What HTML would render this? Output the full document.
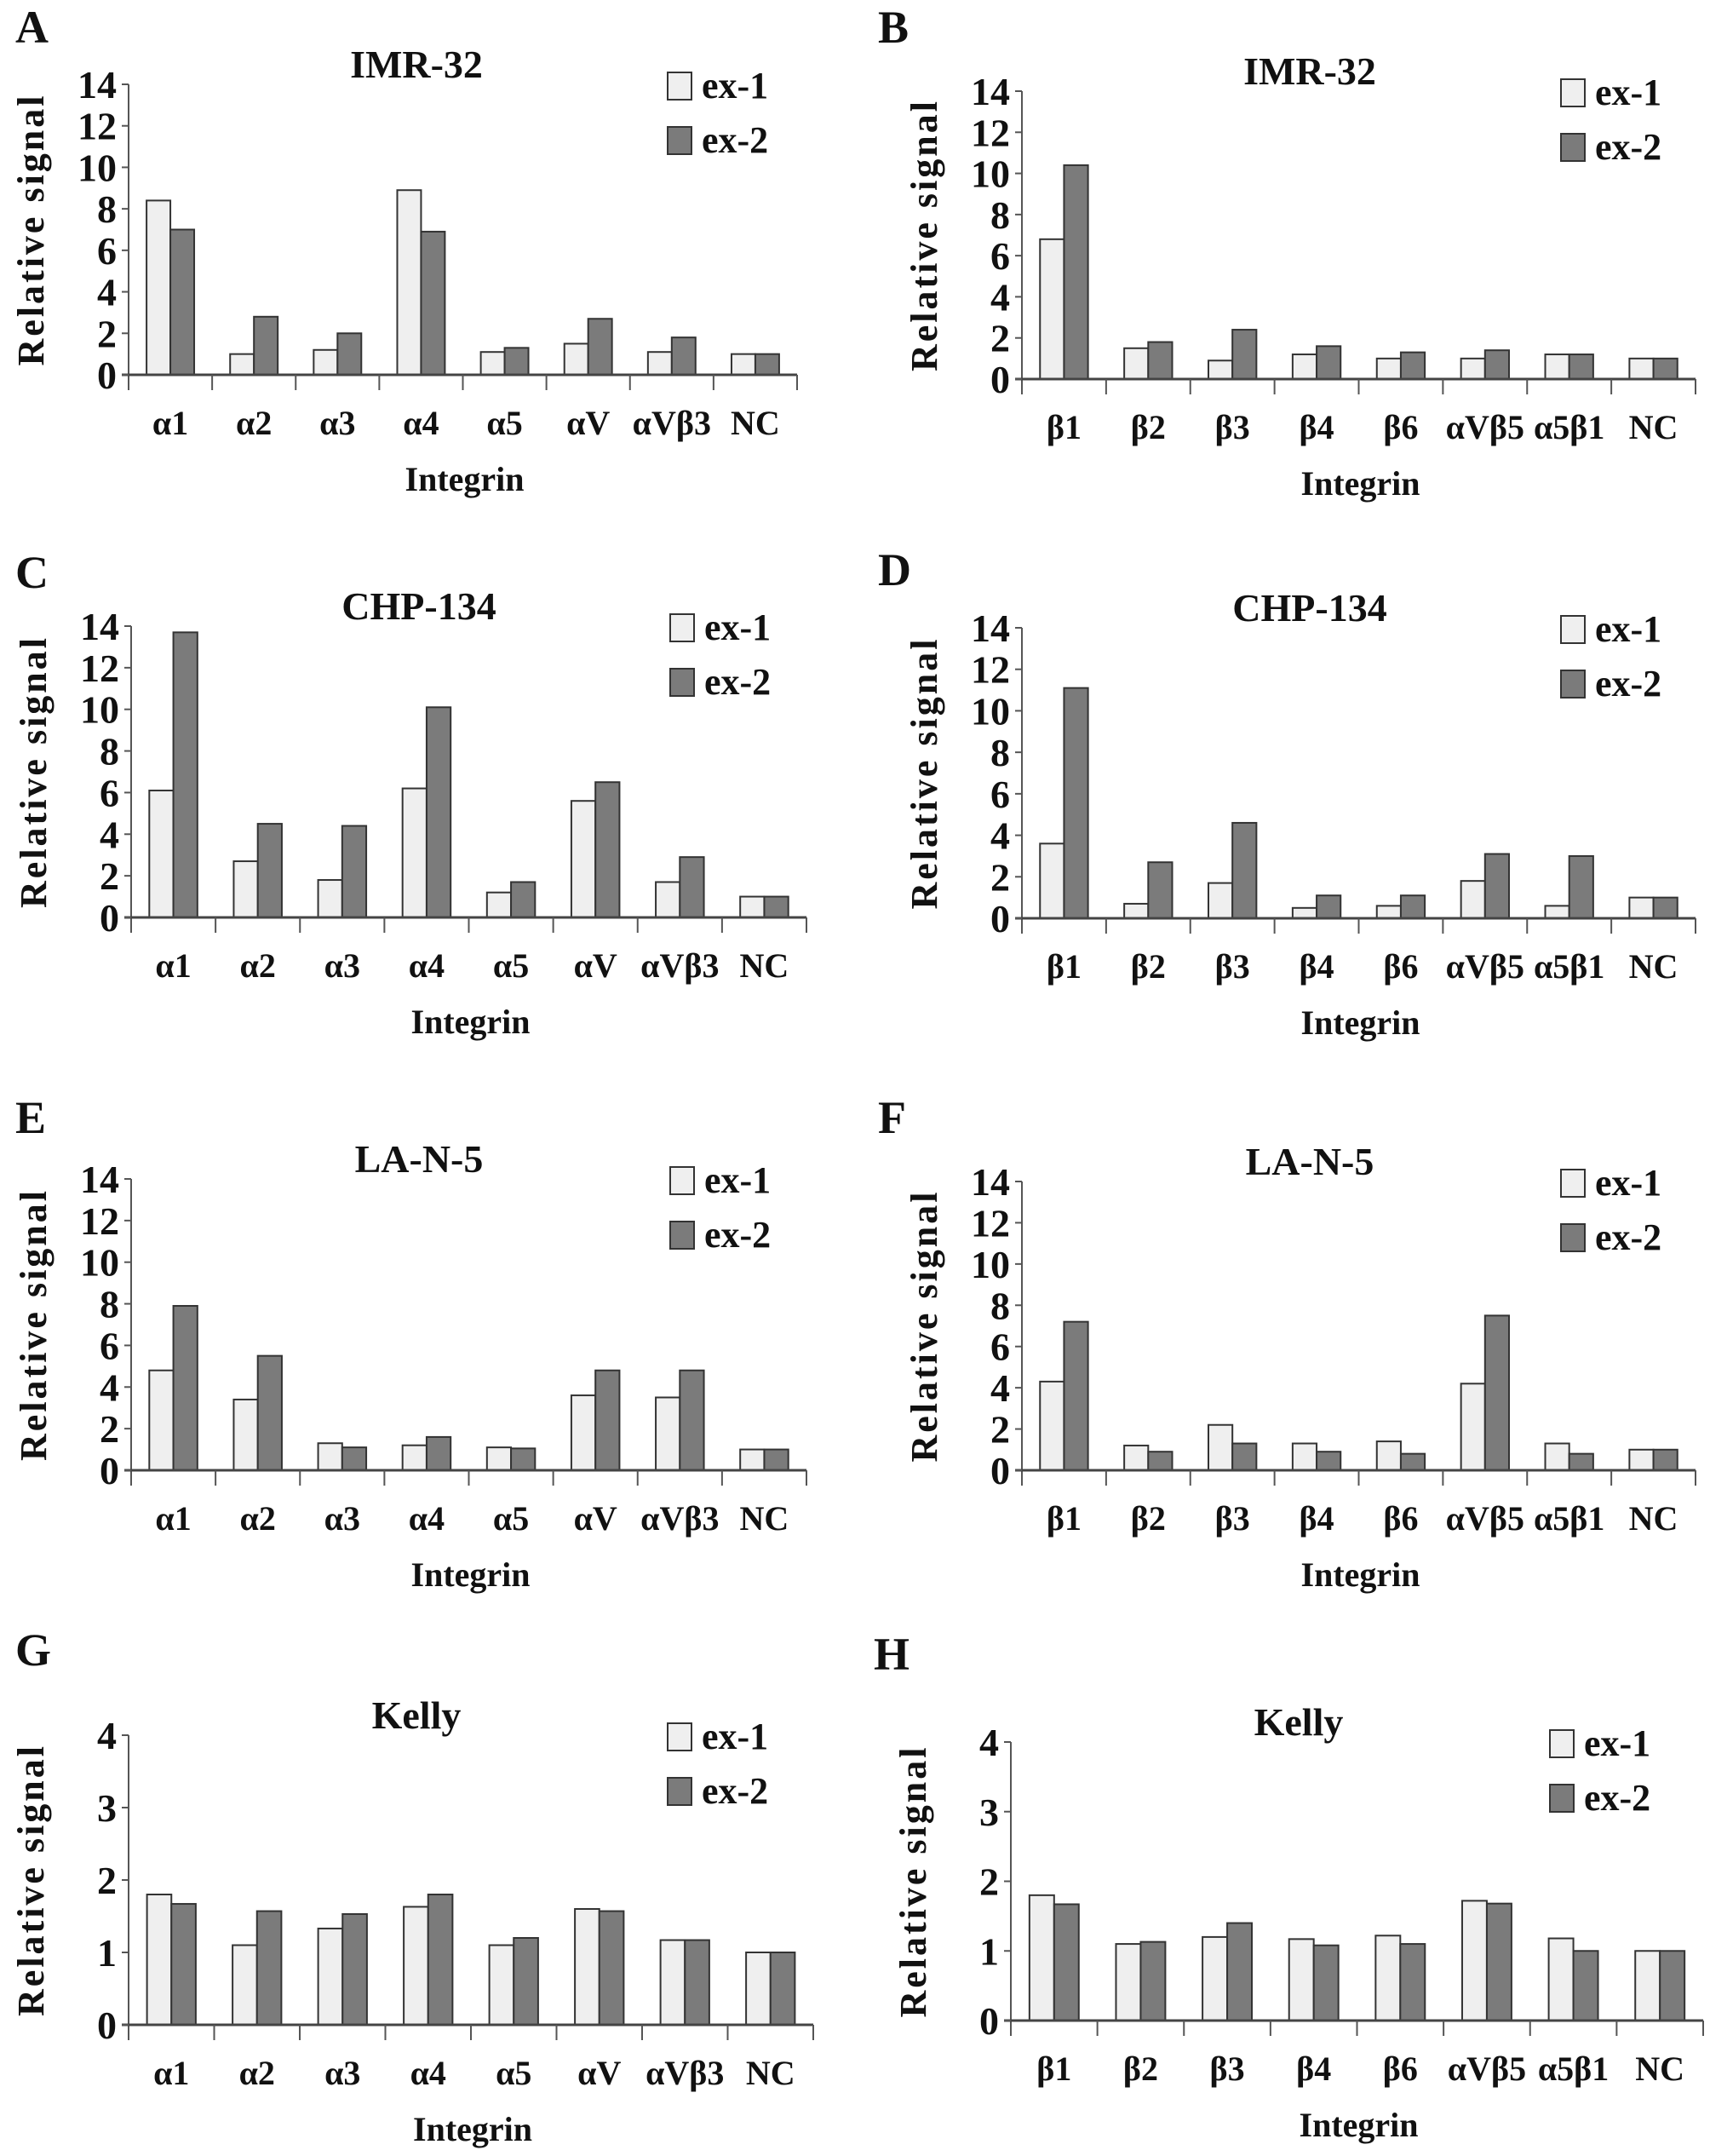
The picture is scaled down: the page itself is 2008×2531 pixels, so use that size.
<!DOCTYPE html>
<html><head><meta charset="utf-8">
<style>
html,body{margin:0;padding:0;background:#fff;}
svg{display:block;}
text{font-family:"Liberation Serif",serif;font-weight:bold;fill:#111;}
</style></head>
<body>
<svg id="fig" width="2008" height="2531" viewBox="0 0 2008 2531" xmlns="http://www.w3.org/2000/svg"></svg>
<script>
const alphaCats = ["α1","α2","α3","α4","α5","αV","αVβ3","NC"];
const betaCats = ["β1","β2","β3","β4","β6","αVβ5","α5β1","NC"];
const ticks14 = [0,2,4,6,8,10,12,14];
const ticks4 = [0,1,2,3,4];
const aEx1 = [8.4,1.0,1.2,8.9,1.1,1.5,1.1,1.0];
const aEx2 = [7.0,2.8,2.0,6.9,1.3,2.7,1.8,1.0];
const bEx1 = [6.8,1.5,0.9,1.2,1.0,1.0,1.2,1.0];
const bEx2 = [10.4,1.8,2.4,1.6,1.3,1.4,1.2,1.0];
const cEx1 = [6.1,2.7,1.8,6.2,1.2,5.6,1.7,1.0];
const cEx2 = [13.7,4.5,4.4,10.1,1.7,6.5,2.9,1.0];
const dEx1 = [3.6,0.7,1.7,0.5,0.6,1.8,0.6,1.0];
const dEx2 = [11.1,2.7,4.6,1.1,1.1,3.1,3.0,1.0];
const eEx1 = [4.8,3.4,1.3,1.2,1.1,3.6,3.5,1.0];
const eEx2 = [7.9,5.5,1.1,1.6,1.05,4.8,4.8,1.0];
const fEx1 = [4.3,1.2,2.2,1.3,1.4,4.2,1.3,1.0];
const fEx2 = [7.2,0.9,1.3,0.9,0.8,7.5,0.8,1.0];
const gEx1 = [1.8,1.1,1.33,1.63,1.1,1.6,1.17,1.0];
const gEx2 = [1.67,1.57,1.53,1.8,1.2,1.57,1.17,1.0];
const hEx1 = [1.8,1.1,1.2,1.17,1.22,1.72,1.18,1.0];
const hEx2 = [1.67,1.13,1.4,1.08,1.1,1.68,1.0,1.0];

const panels = [
 {id:"A",title:"IMR-32",cats:alphaCats,e1:aEx1,e2:aEx2,ticks:ticks14,L:151,R:936,T:99,Z:440,lx:18,ly:50},
 {id:"B",title:"IMR-32",cats:betaCats,e1:bEx1,e2:bEx2,ticks:ticks14,L:1200,R:1991,T:107,Z:445,lx:1031,ly:50},
 {id:"C",title:"CHP-134",cats:alphaCats,e1:cEx1,e2:cEx2,ticks:ticks14,L:154,R:947,T:735,Z:1077,lx:18,ly:690},
 {id:"D",title:"CHP-134",cats:betaCats,e1:dEx1,e2:dEx2,ticks:ticks14,L:1200,R:1991,T:737,Z:1078,lx:1031,ly:687},
 {id:"E",title:"LA-N-5",cats:alphaCats,e1:eEx1,e2:eEx2,ticks:ticks14,L:154,R:947,T:1384,Z:1726,lx:18,ly:1330},
 {id:"F",title:"LA-N-5",cats:betaCats,e1:fEx1,e2:fEx2,ticks:ticks14,L:1200,R:1991,T:1387,Z:1726,lx:1031,ly:1330},
 {id:"G",title:"Kelly",cats:alphaCats,e1:gEx1,e2:gEx2,ticks:ticks4,L:151,R:955,T:2037,Z:2377,lx:18,ly:1955},
 {id:"H",title:"Kelly",cats:betaCats,e1:hEx1,e2:hEx2,ticks:ticks4,L:1187,R:2000,T:2045,Z:2372,lx:1026,ly:1960}
];
const NS="http://www.w3.org/2000/svg";
const svg=document.getElementById('fig');
function mk(tag,attrs,parent,txt){const e=document.createElementNS(NS,tag);for(const k in attrs)e.setAttribute(k,attrs[k]);if(txt!==undefined)e.textContent=txt;parent.appendChild(e);return e;}

panels.forEach(p=>{
  const g=mk('g',{},svg);
  
  
  const max=p.ticks[p.ticks.length-1];
  const y=v=>p.Z-(v/max)*(p.Z-p.T);
  const n=p.cats.length, w=(p.R-p.L)/n;
  const x=i=>p.L+i*w;
  const lt=mk('text',{x:p.lx,y:p.ly,'font-size':54},g,p.id);
  
  
  const tt=mk('text',{x:p.L+338,y:p.T-8,'font-size':46,'text-anchor':'middle'},g,p.title);
  
  
  for(let i=0;i<n;i++){
    const b1=mk('rect',{x:x(i)+0.215*w,y:y(p.e1[i]),width:0.285*w,height:p.Z-y(p.e1[i]),fill:'#efefef',stroke:'#333','stroke-width':2},g);
    
    
    const b2=mk('rect',{x:x(i)+0.5*w,y:y(p.e2[i]),width:0.285*w,height:p.Z-y(p.e2[i]),fill:'#7b7b7b',stroke:'#333','stroke-width':2},g);
    
    
  }
  const ya=mk('line',{x1:p.L,y1:p.T,x2:p.L,y2:p.Z+18,stroke:'#555','stroke-width':2},g);
  
  
  const xa=mk('line',{x1:p.L-8,y1:p.Z,x2:p.R,y2:p.Z,stroke:'#444','stroke-width':3},g);
  
  
  p.ticks.forEach(t=>{
    mk('line',{x1:p.L-8,y1:y(t),x2:p.L,y2:y(t),stroke:'#555','stroke-width':2},g);
    const tl=mk('text',{x:p.L-14,y:y(t)+16,'font-size':46,'text-anchor':'end'},g,String(t));
    
    
  });
  for(let i=1;i<=n;i++){mk('line',{x1:x(i),y1:p.Z,x2:x(i),y2:p.Z+18,stroke:'#555','stroke-width':2},g);}
  p.cats.forEach((c,i)=>{
    const cl=mk('text',{x:x(i)+w/2,y:p.Z+70,'font-size':40,'text-anchor':'middle'},g,c);
    
    
  });
  const xt=mk('text',{x:(p.L+p.R)/2+2,y:p.Z+136,'font-size':40,'text-anchor':'middle'},g,'Integrin');
  
  
  const cy=(p.T+p.Z)/2;
  const yt=mk('text',{x:p.L-100,y:cy,'font-size':44,'text-anchor':'middle','letter-spacing':'3',transform:'rotate(-90 '+(p.L-100)+' '+cy+')'},g,'Relative signal');
  
  
  const lx=p.L+633;
  const s1=mk('rect',{x:lx,y:p.T-14,width:28,height:32,fill:'#efefef',stroke:'#333','stroke-width':2},g);
  
  
  const t1=mk('text',{x:lx+40,y:p.T+16,'font-size':44},g,'ex-1');
  
  
  const s2=mk('rect',{x:lx,y:p.T+50,width:28,height:32,fill:'#7b7b7b',stroke:'#333','stroke-width':2},g);
  
  
  const t2=mk('text',{x:lx+40,y:p.T+80,'font-size':44},g,'ex-2');
  
  
});
</script>
</body></html>
